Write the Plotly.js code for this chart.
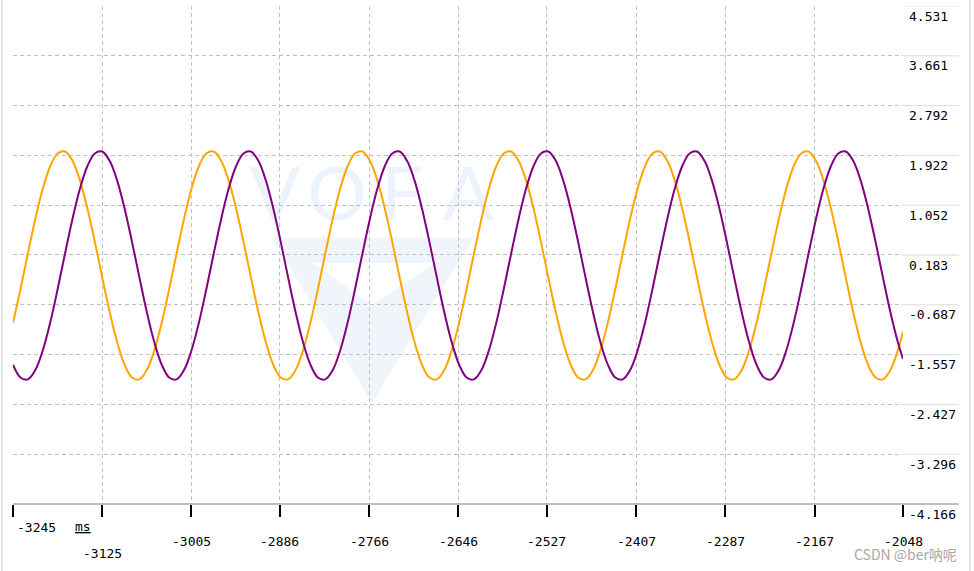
<!DOCTYPE html>
<html>
<head>
<meta charset="utf-8">
<script src="https://cdn.plot.ly/plotly-3.0.1.min.js"></script>
<style>html,body{margin:0;padding:0;background:#fff;}#chart{width:974px;height:571px;}</style>
</head>
<body>
<div id="chart"></div>
<script>
// time axis (ms)
const timeMs = [
-3245,-3235,-3225,-3215,-3205,-3195,-3185,-3175,-3165,-3155,
-3145,-3135,-3125,-3115,-3105,-3095,-3085,-3075,-3065,-3055,
-3045,-3035,-3025,-3015,-3005,-2995,-2985,-2975,-2965,-2955,
-2945,-2935,-2925,-2915,-2905,-2895,-2885,-2875,-2865,-2855,
-2845,-2835,-2825,-2815,-2805,-2795,-2785,-2775,-2765,-2755,
-2745,-2735,-2725,-2715,-2705,-2695,-2685,-2675,-2665,-2655,
-2645,-2635,-2625,-2615,-2605,-2595,-2585,-2575,-2565,-2555,
-2545,-2535,-2525,-2515,-2505,-2495,-2485,-2475,-2465,-2455,
-2445,-2435,-2425,-2415,-2405,-2395,-2385,-2375,-2365,-2355,
-2345,-2335,-2325,-2315,-2305,-2295,-2285,-2275,-2265,-2255,
-2245,-2235,-2225,-2215,-2205,-2195,-2185,-2175,-2165,-2155,
-2145,-2135,-2125,-2115,-2105,-2095,-2085,-2075,-2065,-2055,
-2048];

// orange channel
const ch0 = [
-1.000,-0.416,0.209,0.813,1.338,1.732,1.956,1.989,1.827,1.486,
1.000,0.416,-0.209,-0.813,-1.338,-1.732,-1.956,-1.989,-1.827,-1.486,
-1.000,-0.416,0.209,0.813,1.338,1.732,1.956,1.989,1.827,1.486,
1.000,0.416,-0.209,-0.813,-1.338,-1.732,-1.956,-1.989,-1.827,-1.486,
-1.000,-0.416,0.209,0.813,1.338,1.732,1.956,1.989,1.827,1.486,
1.000,0.416,-0.209,-0.813,-1.338,-1.732,-1.956,-1.989,-1.827,-1.486,
-1.000,-0.416,0.209,0.813,1.338,1.732,1.956,1.989,1.827,1.486,
1.000,0.416,-0.209,-0.813,-1.338,-1.732,-1.956,-1.989,-1.827,-1.486,
-1.000,-0.416,0.209,0.813,1.338,1.732,1.956,1.989,1.827,1.486,
1.000,0.416,-0.209,-0.813,-1.338,-1.732,-1.956,-1.989,-1.827,-1.486,
-1.000,-0.416,0.209,0.813,1.338,1.732,1.956,1.989,1.827,1.486,
1.000,0.416,-0.209,-0.813,-1.338,-1.732,-1.956,-1.989,-1.827,-1.486,
-1.157];

// purple channel
const ch1 = [
-1.732,-1.956,-1.989,-1.827,-1.486,-1.000,-0.416,0.209,0.813,1.338,
1.732,1.956,1.989,1.827,1.486,1.000,0.416,-0.209,-0.813,-1.338,
-1.732,-1.956,-1.989,-1.827,-1.486,-1.000,-0.416,0.209,0.813,1.338,
1.732,1.956,1.989,1.827,1.486,1.000,0.416,-0.209,-0.813,-1.338,
-1.732,-1.956,-1.989,-1.827,-1.486,-1.000,-0.416,0.209,0.813,1.338,
1.732,1.956,1.989,1.827,1.486,1.000,0.416,-0.209,-0.813,-1.338,
-1.732,-1.956,-1.989,-1.827,-1.486,-1.000,-0.416,0.209,0.813,1.338,
1.732,1.956,1.989,1.827,1.486,1.000,0.416,-0.209,-0.813,-1.338,
-1.732,-1.956,-1.989,-1.827,-1.486,-1.000,-0.416,0.209,0.813,1.338,
1.732,1.956,1.989,1.827,1.486,1.000,0.416,-0.209,-0.813,-1.338,
-1.732,-1.956,-1.989,-1.827,-1.486,-1.000,-0.416,0.209,0.813,1.338,
1.732,1.956,1.989,1.827,1.486,1.000,0.416,-0.209,-0.813,-1.338,
-1.631];

const xTickVals = [-3245,-3125,-3005,-2886,-2766,-2646,-2527,-2407,-2287,-2167,-2048];
const xTickText = ['-3245','-3125','-3005','-2886','-2766','-2646','-2527','-2407','-2287','-2167','-2048'];
const yTickVals = [4.531,3.661,2.792,1.922,1.052,0.183,-0.687,-1.557,-2.427,-3.296,-4.166];
const yTickText = ['4.531','3.661','2.792','1.922','1.052','0.183','-0.687','-1.557','-2.427','-3.296','-4.166'];
const xUnit = 'ms';
const watermarkLetters = ['V','O','F','A'];
const credit = 'CSDN @ber呐呢';

const mono = 'DejaVu Sans Mono, monospace';

const traces = [
  {x: timeMs, y: ch0, type: 'scatter', mode: 'lines', line: {color: '#FFA500', width: 2, shape: 'spline'}, hoverinfo: 'skip'},
  {x: timeMs, y: ch1, type: 'scatter', mode: 'lines', line: {color: '#800080', width: 2, shape: 'spline'}, hoverinfo: 'skip'}
];

// pixel helpers for decoration placement (plot area 13..903 x 6..504)
const px = v => (v - 13) / 890;
const py = v => (504 - v) / 498;

const shapes = [];
// watermark V logo
shapes.push({type: 'path', xref: 'paper', yref: 'paper', layer: 'below',
  path: `M${px(272)},${py(238)} L${px(473)},${py(238)} L${px(372)},${py(403)} Z M${px(313)},${py(263)} L${px(372)},${py(305)} L${px(435)},${py(263)} Z`,
  fillcolor: '#f0f5fc', line: {width: 0}});
// watermark letters
const letterX = [275, 337, 402, 468];
watermarkLetters.forEach((ch, i) => {
  shapes.push({type: 'rect', xref: 'paper', yref: 'paper', layer: 'below',
    x0: px(letterX[i] - 30), x1: px(letterX[i] + 30), y0: py(225), y1: py(155),
    line: {width: 0}, fillcolor: 'rgba(0,0,0,0)',
    label: {text: ch, textposition: 'middle center', font: {family: 'Lato, Open Sans, sans-serif', size: 74, color: '#edf3fc'}}});
});
// right-side extensions of horizontal grid lines
yTickVals.slice(0, -1).forEach(v => {
  shapes.push({type: 'line', xref: 'paper', yref: 'y', x0: 1, x1: px(959), y0: v, y1: v,
    line: {color: '#dcdcdc', width: 1}});
});
// bottom axis line
shapes.push({type: 'line', xref: 'paper', yref: 'paper', x0: 0, x1: px(959), y0: 0, y1: 0,
  line: {color: '#808080', width: 1}});
// outer frame lines
shapes.push({type: 'line', xref: 'paper', yref: 'paper', x0: px(2), x1: px(2), y0: py(571), y1: py(0),
  line: {color: '#d0d0d0', width: 1}});
shapes.push({type: 'line', xref: 'paper', yref: 'paper', x0: px(970), x1: px(970), y0: py(571), y1: py(0),
  line: {color: '#d0d0d0', width: 1}});

const annotations = [];
xTickVals.forEach((v, i) => {
  const a = {x: v, xref: 'x', y: 0, yref: 'paper', text: xTickText[i], showarrow: false,
    yanchor: 'middle', xanchor: 'center', yshift: -37,
    font: {family: mono, size: 13, color: '#000'}};
  if (i === 0) { a.xanchor = 'left'; a.xshift = 2; a.yshift = -23; }
  if (i === 1) { a.yshift = -49; }
  annotations.push(a);
});
annotations.push({x: px(83), xref: 'paper', y: 0, yref: 'paper', text: '<u>' + xUnit + '</u>', showarrow: false,
  yanchor: 'middle', xanchor: 'center', yshift: -22, font: {family: mono, size: 13, color: '#000'}});
annotations.push({x: px(959), xref: 'paper', y: 0, yref: 'paper', text: credit, showarrow: false,
  xanchor: 'right', yanchor: 'middle', yshift: -50,
  font: {family: 'Noto Sans CJK SC, Noto Sans, sans-serif', size: 14, color: '#a8a8a8'}});

const layout = {
  width: 974, height: 571,
  margin: {l: 13, r: 71, t: 6, b: 67, pad: 0},
  paper_bgcolor: '#ffffff', plot_bgcolor: 'rgba(0,0,0,0)',
  showlegend: false,
  xaxis: {range: [-3245, -2048], tickmode: 'array', tickvals: xTickVals, showticklabels: false,
    ticks: 'outside', ticklen: 12, tickwidth: 2, tickcolor: '#000',
    showgrid: true, gridcolor: '#c2c2c2', gridwidth: 1, griddash: '4px,3px',
    zeroline: false, showline: false, fixedrange: true},
  yaxis: {range: [-4.166, 4.531], side: 'right', tickmode: 'array', tickvals: yTickVals, ticktext: yTickText,
    ticks: '', showgrid: true, gridcolor: '#c2c2c2', gridwidth: 1, griddash: '4px,3px',
    zeroline: false, showline: false, fixedrange: true,
    tickfont: {family: mono, size: 13, color: '#000'}, ticklabelshift: 10, ticklabelstandoff: 5},
  shapes: shapes,
  annotations: annotations
};

Plotly.newPlot('chart', traces, layout, {displayModeBar: false, staticPlot: true});
</script>
</body>
</html>
